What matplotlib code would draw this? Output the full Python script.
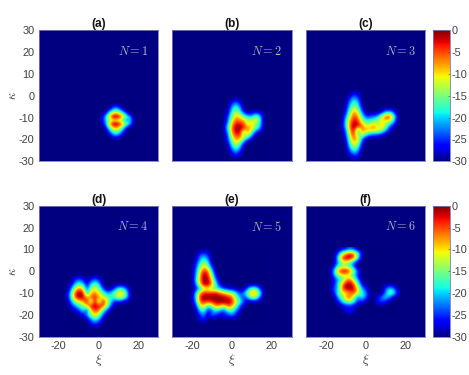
import numpy as np
import matplotlib
matplotlib.use("Agg")
import matplotlib.pyplot as plt
from matplotlib.cm import ScalarMappable
from matplotlib.colors import Normalize

plt.rcParams['font.family'] = ['Liberation Sans', 'DejaVu Sans']
plt.rcParams['mathtext.fontset'] = 'cm'
plt.rcParams['axes.unicode_minus'] = False

# levels in dB, rows from top to bottom, short rows end in floor
FLOOR = -30
xi_ticks = [-20, 0, 20]
kappa_ticks = [-30, -20, -10, 0, 10, 20, 30]
cbar_ticks = [-30, -25, -20, -15, -10, -5, 0]
titles = ['(a)', '(b)', '(c)', '(d)', '(e)', '(f)']
orders = [1, 2, 3, 4, 5, 6]

# first xi, top kappa, kappa spacing of each panel (xi spacing is always 2)
xi_first = [2, -4, -12, -16, -20, -18]
kappa_top = [-4, -1, 2, -2, 10, 10]
kappa_step = [1.5, 2, 2, 2, 2, 2]

panel_a = [
    [-30],
    [-30, -30, -30, -24, -24, -30],
    [-30, -30, -24, -17, -18, -24],
    [-30, -26, -14, -7, -8, -14, -22],
    [-28, -19, -8, 0, -1, -7, -16, -20],
    [-28, -20, -14, -11, -13, -15, -24, -19],
    [-29, -22, -7, 0, -1, -7, -14, -20],
    [-30, -26, -13, -6, -7, -13, -23],
    [-30, -30, -20, -13, -13, -20],
    [-30, -30, -26, -19, -19, -26],
    [-30, -30, -30, -26, -26],
    [-30, -30, -30, -30, -30, -30, -30, -30, -30],
]
panel_b = [
    [-30],
    [-30, -30, -28, -24, -28],
    [-30, -30, -22, -18, -23],
    [-30, -29, -19, -15, -19],
    [-30, -26, -16, -10, -13, -20, -25, -24, -19, -23],
    [-30, -24, -13, -6, -8, -10, -13, -15, -9, -17],
    [-30, -21, -9, -3, -3, -5, -14, -8, -15, -19],
    [-28, -18, -6, 0, 0, -3, -7, -10, -16, -20],
    [-30, -22, -7, -2, -2, -18, -6, -16, -26],
    [-30, -24, -11, -5, -6, -11, -15, -26],
    [-30, -26, -15, -9, -12, -21],
    [-30, -29, -19, -14, -19],
    [-30, -30, -24, -19, -24],
    [-30, -30, -28, -25, -28],
    [-30, -30, -30, -30, -30, -30, -30, -30, -30, -30, -30],
]
panel_c = [
    [-30],
    [-30, -30, -29, -25, -27],
    [-30, -30, -24, -20, -23],
    [-30, -29, -21, -16, -19],
    [-30, -28, -18, -12, -16, -27],
    [-30, -26, -14, -7, -11, -23, -30, -30, -30, -30, -27, -20, -19, -25],
    [-30, -22, -11, -4, -7, -17, -24, -24, -22, -20, -10, -3, -3, -16],
    [-30, -18, -7, -2, -4, -13, -18, -17, -16, -12, -12, -11, -13, -20],
    [-28, -19, -5, 0, -1, -6, -12, -11, -6, -16, -6, -15, -22, -28],
    [-30, -22, -7, -1, -20, -6, -8, -8, -9, -8, -13, -20, -28],
    [-30, -25, -10, -3, -18, -10, -17, -22, -24, -24, -27],
    [-30, -27, -13, -6, -9, -22],
    [-30, -29, -16, -10, -13, -26],
    [-30, -30, -20, -14, -18],
    [-30, -30, -25, -20, -23],
    [-30, -30, -29, -26, -28],
    [-30, -30, -30, -30, -30, -30, -30, -30, -30, -30, -30, -30, -30, -30, -30],
]
panel_d = [
    [-30],
    [-30, -30, -26, -23, -26, -30, -26, -23, -26],
    [-30, -29, -21, -17, -20, -28, -20, -16, -20],
    [-30, -24, -13, -7, -10, -26, -14, -11, -15, -25, -30, -30, -24, -18, -19, -26],
    [-29, -19, -5, 0, -2, -22, -9, -7, -12, -16, -22, -20, -15, -9, -10, -19],
    [-29, -18, -5, 0, -1, -9, -5, -3, -7, -11, -16, -18, -16, -10, -12, -20],
    [-30, -23, -14, -11, -8, -1, -17, -1, -17, -2, -10, -20, -26, -26, -28],
    [-30, -27, -22, -18, -15, -9, -2, -1, -2, -4, -13, -24],
    [-30, -30, -28, -25, -18, -27, -9, -4, -6, -17, -24],
    [-30, -30, -30, -29, -27, -21, -13, -10, -13, -23],
    [-30, -30, -30, -30, -30, -29, -22, -17, -21, -29],
    [-30, -30, -30, -30, -30, -30, -27, -24, -27],
    [-30, -30, -30, -30, -30, -30, -30, -30, -30, -30, -30, -30, -30, -30, -30, -30, -30],
]
panel_e = [
    [-30],
    [-30, -30, -26, -24, -27],
    [-30, -29, -22, -19, -23],
    [-30, -27, -19, -14, -19],
    [-30, -25, -15, -9, -14, -26],
    [-30, -23, -11, -3, -6, -19],
    [-30, -22, -8, 0, -3, -14, -28],
    [-30, -20, -7, 0, -1, -10, -23],
    [-30, -23, -9, -1, 0, -7, -18, -27],
    [-30, -27, -21, -13, -13, -16, -17, -21, -25, -27, -28, -29, -30, -30, -22, -15, -16, -25],
    [-30, -20, -7, -3, -4, -3, -2, -5, -8, -11, -13, -19, -25, -21, -13, -7, -8, -17],
    [-29, -19, -3, 0, 0, 0, 0, 0, -1, -3, -5, -15, -21, -26, -21, -12, -14, -24],
    [-30, -22, -5, -3, -5, -3, -1, 0, 0, 0, -3, -11, -17, -24],
    [-30, -27, -12, -10, -20, -14, -7, -9, -13, -5, -8, -16, -24],
    [-30, -29, -20, -17, -27, -24, -19, -22, -26, -18, -17, -22, -28],
    [-30, -30, -25, -22, -29, -22, -25, -28, -25, -25, -22, -26],
    [-30, -30, -28, -25, -30],
    [-30, -30, -30, -30, -30, -30, -30, -30, -30, -30, -30, -30, -30, -30, -30, -30, -30, -30, -30],
]
panel_f = [
    [-30, -30, -30, -28, -27, -24, -26],
    [-30, -30, -25, -14, -7, -3, -6, -16, -28],
    [-30, -30, -19, -4, 0, 0, -5, -18],
    [-30, -30, -22, -14, -12, -17, -24, -30],
    [-30, -27, -17, -14, -14, -18, -24, -30],
    [-30, -20, -6, -1, 0, -4, -14, -25],
    [-30, -23, -15, -12, -12, -15, -20, -26],
    [-30, -27, -22, -17, -9, -5, -13, -22],
    [-30, -27, -18, -9, -1, 0, -5, -16, -27],
    [-30, -23, -22, -6, -1, 0, -2, -11, -21, -26, -30, -30, -30, -30, -24, -19, -23],
    [-30, -27, -16, -12, -10, -8, -4, -11, -18, -22, -29, -30, -30, -30, -21, -15, -17, -27],
    [-30, -30, -22, -15, -8, -4, -15, -24, -18, -23, -30, -30, -27, -22, -19, -23],
    [-30, -30, -27, -20, -15, -13, -18, -26, -25, -30, -30, -30, -26, -24, -27],
    [-30, -30, -30, -29, -27, -27, -28],
    [-30, -30, -30, -30, -26, -25, -28],
    [-30, -30, -30, -30, -30, -30, -30, -30, -30, -30, -30, -30, -30, -30, -30, -30, -30, -30],
]
panels = [panel_a, panel_b, panel_c, panel_d, panel_e, panel_f]


def to_grid(rows):
    width = max(len(r) for r in rows)
    return np.array([r + [FLOOR] * (width - len(r)) for r in rows], dtype=float)


W, H = 469., 375.
lefts = [38.7, 172.3, 306.3]
widths = [119.6, 119.7, 119.0]
tops = [30.3, 205.7]
height = 131.0
grey = '#404040'
norm = Normalize(-30, 0)
cmap = plt.get_cmap('jet')

fig = plt.figure(figsize=(4.69, 3.75), dpi=100)
for i in range(6):
    row, col = i // 3, i % 3
    ax = fig.add_axes([lefts[col] / W, 1 - (tops[row] + height) / H, widths[col] / W, height / H])
    ax.set_facecolor(cmap(0.0))
    grid = to_grid(panels[i])
    x0 = xi_first[i]
    x1 = x0 + 2 * (grid.shape[1] - 1)
    y0 = kappa_top[i]
    y1 = y0 - kappa_step[i] * (grid.shape[0] - 1)
    ax.imshow(grid, cmap=cmap, norm=norm, interpolation='bicubic', aspect='auto',
              extent=[x0 - 1, x1 + 1, y1 - kappa_step[i] / 2, y0 + kappa_step[i] / 2])
    ax.set_xlim(-30, 30)
    ax.set_ylim(-30, 30)
    ax.set_xticks(xi_ticks if row == 1 else [])
    ax.set_yticks(kappa_ticks if col == 0 else [])
    ax.tick_params(length=0, labelsize=7.9, labelcolor=grey, pad=3)
    for s in ax.spines.values():
        s.set_color('#7a7ab8')
        s.set_linewidth(0.6)
    ax.set_title(titles[i], fontsize=8.6, fontweight='bold', color='#111111', pad=1.5)
    ax.text(0.92, 0.84, '$N=%d$' % orders[i], transform=ax.transAxes, ha='right', va='center',
            color='#b4b4c8', fontsize=8.8)
    if row == 1:
        ax.set_xlabel(r'$\xi$', fontsize=9.5, color=grey, labelpad=1)
    if col == 0:
        ax.set_ylabel(r'$\kappa$', fontsize=9, color=grey, labelpad=0)

for row in range(2):
    cax = fig.add_axes([433.3 / W, 1 - (tops[row] + height) / H, 16.4 / W, height / H])
    cb = fig.colorbar(ScalarMappable(norm=norm, cmap=cmap), cax=cax)
    cb.set_ticks(cbar_ticks)
    cb.ax.tick_params(length=1.5, width=0.4, direction='in', color='#404040',
                      labelsize=7.9, labelcolor=grey, pad=1.5)
    cb.outline.set_edgecolor('#7a7ab8')
    cb.outline.set_linewidth(0.6)

fig.savefig('out.png', dpi=100)
